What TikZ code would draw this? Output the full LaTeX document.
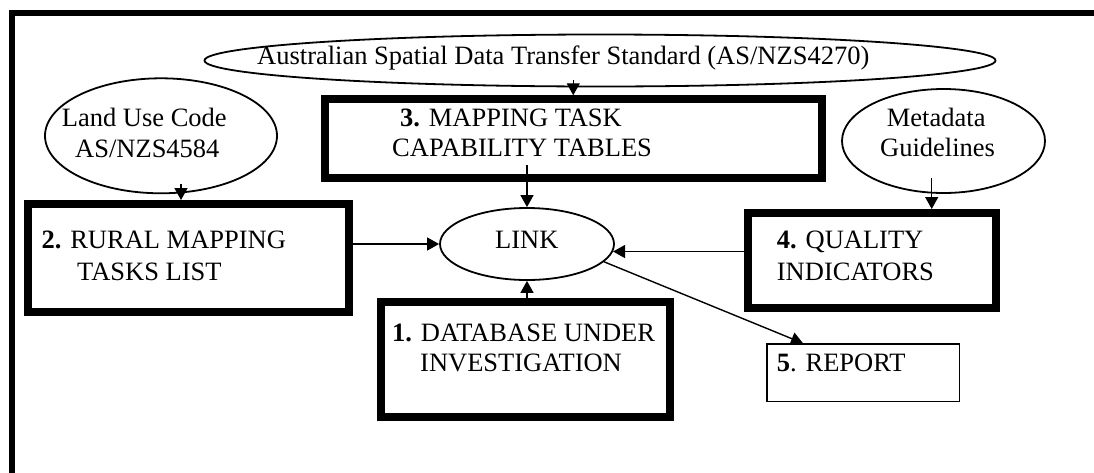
\documentclass[tikz,border=0pt]{standalone}
\usepackage{fontspec}
\setmainfont{Liberation Serif}
\usetikzlibrary{shapes.geometric,arrows.meta,calc}
\begin{document}
\begin{tikzpicture}[x=1pt,y=-1pt,
  thickbox/.style={draw,line width=8pt,rectangle,inner sep=0pt},
  thinbox/.style={draw,line width=1.5pt,rectangle,inner sep=0pt},
  oval/.style={draw,ellipse,line width=1.8pt,inner sep=0pt},
  arr/.style={-{Triangle[length=12pt,width=13pt]},line width=1.4pt},
  txt/.style={inner sep=0pt,anchor=base west,font=\fontsize{26.5}{30}\selectfont},
  frameline/.style={line width=6pt,line join=miter}]
\useasboundingbox (0,0) rectangle (1094,472);
\clip (0,0) rectangle (1094,472);
% outer frame (only top and left edges visible)
\coordinate (fbl) at (12,490);
\coordinate (fc) at (12,13);
\coordinate (ftr) at (1110,13);
\draw[frameline] (fbl) -- (fc) -- (ftr);
% ellipses
\node[oval,minimum width=791pt,minimum height=52pt] (asdts) at (600,60.5) {};
\node[oval,minimum width=232pt,minimum height=115pt] (luc) at (161,135.8) {};
\node[oval,minimum width=203pt,minimum height=104pt] (meta) at (943.5,141) {};
\node[oval,minimum width=174pt,minimum height=72pt] (link) at (527,244) {};
% boxes
\node[thickbox,minimum width=320.5pt,minimum height=108pt] (b2) at (188.25,258) {};
\node[thickbox,minimum width=496.5pt,minimum height=78.5pt] (b3) at (573.25,138.5) {};
\node[thickbox,minimum width=248pt,minimum height=95pt] (b4) at (872,260.5) {};
\node[thickbox,minimum width=289pt,minimum height=114.7pt] (b1) at (525.5,359.3) {};
\node[thinbox,minimum width=192.4pt,minimum height=57.7pt] (b5) at (863.2,372.85) {};
% texts
\node[txt] (t0) at (257,64.5) {Australian Spatial Data Transfer Standard (AS/NZS4270)};
\node[txt] (tl1) at (61.7,126.7) {Land Use Code};
\node[txt] (tl2) at (75,157) {AS/NZS4584};
\node[txt] (t31) at (400,126.7) {\textbf{3.} MAPPING TASK};
\node[txt] (t32) at (392,156.7) {CAPABILITY TABLES};
\node[txt] (tm1) at (886.7,126.7) {Metadata};
\node[txt] (tm2) at (880,156.7) {Guidelines};
\node[txt] (t21) at (41.4,248.3) {\textbf{2.} RURAL MAPPING};
\node[txt] (t22) at (77,280) {TASKS LIST};
\node[txt] (tlink) at (495,248.3) {LINK};
\node[txt] (t41) at (776.7,248.3) {\textbf{4.} QUALITY};
\node[txt] (t42) at (776.7,280) {INDICATORS};
\node[txt] (t11) at (392,341.7) {\textbf{1.} DATABASE UNDER};
\node[txt] (t12) at (420,371.7) {INVESTIGATION};
\node[txt] (t5) at (776.7,371.7) {\textbf{5}. REPORT};
% connectors
\draw[arr] ($(b3.north |- asdts.south)+(0,-7)$) -- (b3.north);
\draw[arr] ($(luc.south)+(20,-10)$) -- ($(b2.north)+(-7.25,0)$);
\draw[arr] ($(meta.south)+(-11.8,-15.75)$) -- ($(b4.north)+(59.7,0)$);
\draw[arr] ($(link.north |- b3.south)+(0,-16.75)$) -- (link.north);
\draw[arr] (b2.east |- link.west) -- (link.west);
\draw[arr] (b4.west |- link.-5.2) -- (link.-5.2);
\draw[arr] (link.south |- b1.north) -- (link.south);
\draw[arr] (link.-13) -- ($(b5.north)+(-60.2,0)$);
\end{tikzpicture}
\end{document}
